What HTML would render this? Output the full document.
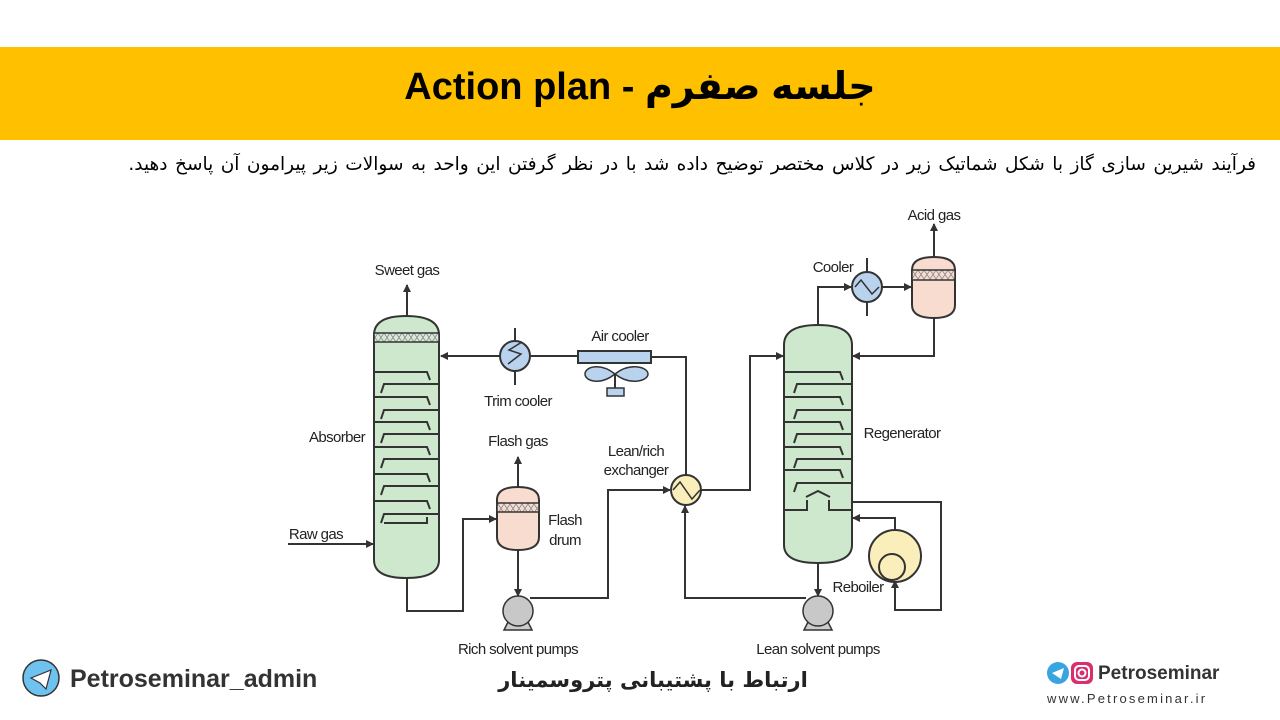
<!DOCTYPE html>
<html><head><meta charset="utf-8"><style>
html,body{margin:0;padding:0;background:#fff;width:1280px;height:720px;overflow:hidden;position:relative;font-family:"Liberation Sans","Noto Sans CJK SC",sans-serif}
.band{position:absolute;left:0;top:47px;width:1280px;height:93px;background:#FFC000}
.title{position:absolute;left:0;top:61px;width:1280px;text-align:center;font-size:38px;font-weight:bold;color:#000;line-height:52px;font-family:"Liberation Sans","DejaVu Sans",sans-serif;direction:ltr}
.para{position:absolute;right:24px;top:154px;font-size:18.5px;word-spacing:1.6px;color:#000;direction:rtl;font-family:"DejaVu Sans","Liberation Sans",sans-serif;white-space:nowrap}
</style></head><body>
<div class="band"></div>
<div class="title">Action plan - <span dir="rtl">جلسه صفرم</span></div>
<div class="para">فرآیند شیرین سازی گاز با شکل شماتیک زیر در کلاس مختصر توضیح داده شد با در نظر گرفتن این واحد به سوالات زیر پیرامون آن پاسخ دهید.</div>
<svg width="1280" height="720" style="position:absolute;left:0;top:0" xmlns="http://www.w3.org/2000/svg">
<defs>
<marker id="a" markerWidth="8" markerHeight="8" refX="7" refY="4" orient="auto" markerUnits="userSpaceOnUse"><path d="M0,0 L8,4 L0,8 z" fill="#333"/></marker>
<pattern id="mesh" width="6" height="9" patternUnits="userSpaceOnUse"><rect width="6" height="9" fill="#d8ead8"/><path d="M0,0 L6,9 M6,0 L0,9" stroke="#888" stroke-width="0.8"/></pattern>
<pattern id="mesh2" width="6" height="9" patternUnits="userSpaceOnUse"><rect width="6" height="9" fill="#f6dcd2"/><path d="M0,0 L6,9 M6,0 L0,9" stroke="#888" stroke-width="0.8"/></pattern>
</defs>
<g stroke="#333" stroke-width="2" fill="none">
<path d="M374,335 Q374,316 406,316 Q439,316 439,335 L439,560 Q439,578 406,578 Q374,578 374,560 Z" fill="#cde8cd"/>
<rect x="374" y="333" width="65" height="9" fill="url(#mesh)" stroke-width="1.5"/>
<path d="M374,372H427l3,8 M374,397H427l3,8 M374,422H427l3,8 M374,447H427l3,8 M374,474H427l3,8 M374,501H427l3,8"/>
<path d="M439,384H384l-3,9 M439,410H384l-3,9 M439,434H384l-3,9 M439,459H384l-3,9 M439,486H384l-3,9 M439,514H384l-3,9"/>
<path d="M384,523H427v-6"/>
<line x1="407" y1="316" x2="407" y2="285" marker-end="url(#a)"/>
<line x1="288" y1="544" x2="373" y2="544" marker-end="url(#a)"/>
<line x1="500" y1="356" x2="441" y2="356" marker-end="url(#a)"/>
<line x1="515" y1="328" x2="515" y2="385"/>
<circle cx="515" cy="356" r="15" fill="#b9d3ee"/>
<path d="M508,364 L521,354 L509,350 L522,342" stroke-width="1.5"/>
<line x1="530" y1="356" x2="578" y2="356"/>
<rect x="578" y="351" width="73" height="12" fill="#b9d3ee"/>
<path d="M615,374 C600,362 585,367 585,374 C585,381 600,386 615,374 C630,362 648,367 648,374 C648,381 630,386 615,374 Z" fill="#b9d3ee" stroke-width="1.5"/>
<line x1="615" y1="374" x2="615" y2="388"/>
<rect x="607" y="388" width="17" height="8" fill="#b9d3ee" stroke-width="1.5"/>
<path d="M651,357H686V475"/>
<path d="M407,578V611H463V519H496" marker-end="url(#a)"/>
<path d="M497,500 Q497,487 518,487 Q539,487 539,500 L539,537 Q539,550 518,550 Q497,550 497,537 Z" fill="#f9dcd0"/>
<rect x="497" y="503" width="42" height="9" fill="url(#mesh2)" stroke-width="1.5"/>
<line x1="518" y1="487" x2="518" y2="457" marker-end="url(#a)"/>
<line x1="518" y1="550" x2="518" y2="596" marker-end="url(#a)"/>
<path d="M508,622 L504,630 H532 L528,622" fill="#ccc" stroke-width="1.5"/>
<circle cx="518" cy="611" r="15" fill="#c8c8c8" stroke-width="1.5"/>
<path d="M530,598H608V490H670" marker-end="url(#a)"/>
<circle cx="686" cy="490" r="15" fill="#faeebb"/>
<path d="M673,490 L680,482 L692,499 L700,490" stroke-width="1.5"/>
<path d="M701,490H750V356H783" marker-end="url(#a)"/>
<path d="M784,345 Q784,325 818,325 Q852,325 852,345 L852,545 Q852,563 818,563 Q784,563 784,545 Z" fill="#cde8cd"/>
<path d="M784,372H840l3,8 M784,397H840l3,8 M784,422H840l3,8 M784,447H840l3,8 M784,470H840l3,8"/>
<path d="M852,384H797l-3,9 M852,410H797l-3,9 M852,434H797l-3,9 M852,459H797l-3,9 M852,483H797l-3,9"/>
<path d="M806,497 L818,491 L830,497"/>
<path d="M784,510H807V500 M829,500V510H852"/>
<path d="M818,325V287H851" marker-end="url(#a)"/>
<line x1="867" y1="258" x2="867" y2="316"/>
<circle cx="867" cy="287" r="15" fill="#b9d3ee"/>
<path d="M855,287 L861,280 L872,294 L879,287" stroke-width="1.5"/>
<line x1="882" y1="287" x2="911" y2="287" marker-end="url(#a)"/>
<path d="M912,270 Q912,257 934,257 Q955,257 955,270 L955,305 Q955,318 934,318 Q912,318 912,305 Z" fill="#f9dcd0"/>
<rect x="912" y="270" width="43" height="10" fill="url(#mesh2)" stroke-width="1.5"/>
<line x1="934" y1="257" x2="934" y2="224" marker-end="url(#a)"/>
<path d="M934,318V356H853" marker-end="url(#a)"/>
<path d="M852,502H941V610H895V581" marker-end="url(#a)"/>
<circle cx="895" cy="556" r="26" fill="#faeebb"/>
<circle cx="892" cy="567" r="13" fill="#faeebb"/>
<path d="M895,530V518H853" marker-end="url(#a)"/>
<line x1="818" y1="563" x2="818" y2="596" marker-end="url(#a)"/>
<path d="M808,622 L804,630 H832 L828,622" fill="#ccc" stroke-width="1.5"/>
<circle cx="818" cy="611" r="15" fill="#c8c8c8" stroke-width="1.5"/>
<path d="M806,598H685V506" marker-end="url(#a)"/>
</g>
<g font-family="Liberation Sans, sans-serif" font-size="15" fill="#222" text-anchor="middle" style="letter-spacing:-0.6px">
<text x="407" y="275">Sweet gas</text>
<text x="620" y="341">Air cooler</text>
<text x="518" y="406">Trim cooler</text>
<text x="337" y="442">Absorber</text>
<text x="518" y="446">Flash gas</text>
<text x="636" y="456">Lean/rich</text>
<text x="636" y="475">exchanger</text>
<text x="565" y="525">Flash</text>
<text x="565" y="545">drum</text>
<text x="316" y="539">Raw gas</text>
<text x="518" y="654">Rich solvent pumps</text>
<text x="818" y="654">Lean solvent pumps</text>
<text x="833" y="272">Cooler</text>
<text x="934" y="220">Acid gas</text>
<text x="902" y="438">Regenerator</text>
<text x="858" y="592">Reboiler</text>
</g>
<circle cx="41" cy="678" r="18" fill="#6ec2ef" stroke="#333" stroke-width="1.5"/>
<path d="M31,678 L51,670 L46,689 L40,683 Z" fill="#fff" stroke="#333" stroke-width="1.2"/>
<text x="70" y="687" font-family="Liberation Sans, sans-serif" font-weight="bold" font-size="25" fill="#333">Petroseminar_admin</text>
<text x="653" y="687" font-family="DejaVu Sans, sans-serif" font-weight="bold" font-size="21" fill="#222" text-anchor="middle" direction="rtl">ارتباط با پشتیبانی پتروسمینار</text>
<circle cx="1058" cy="673" r="11" fill="#39a5e0"/>
<path d="M1052,673 L1064,668 L1061,679 Z" fill="#fff"/>
<rect x="1071" y="662" width="22" height="22" rx="6" fill="#d8306e"/>
<rect x="1075" y="666" width="14" height="14" rx="4" fill="none" stroke="#fff" stroke-width="2"/>
<circle cx="1082" cy="673" r="3.5" fill="none" stroke="#fff" stroke-width="2"/>
<text x="1098" y="679" font-family="Liberation Sans, sans-serif" font-weight="bold" font-size="19" fill="#333">Petroseminar</text>
<text x="1047" y="703" font-family="Liberation Sans, sans-serif" font-size="13" fill="#333" style="letter-spacing:2.2px">www.Petroseminar.ir</text>
</svg>
</body></html>
